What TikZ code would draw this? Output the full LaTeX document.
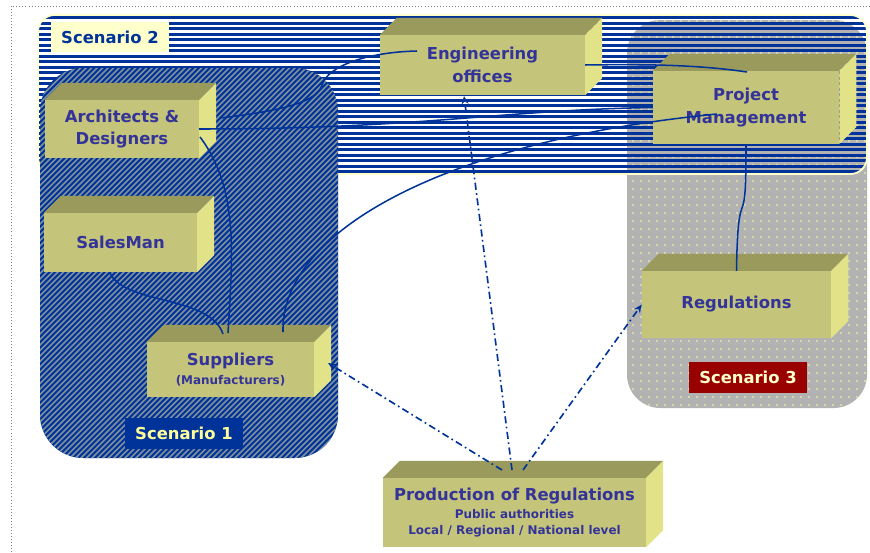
\documentclass[tikz,border=0pt]{standalone}
\usepackage{fontspec}
\setmainfont{DejaVu Sans}
\usetikzlibrary{arrows.meta,patterns}
\definecolor{boxfront}{HTML}{C4C47A}
\definecolor{boxtop}{HTML}{9A9A5C}
\definecolor{boxside}{HTML}{E2E288}
\definecolor{boxtext}{HTML}{333399}
\definecolor{linkblue}{HTML}{003399}
\definecolor{scgray}{HTML}{B2B2B2}
\definecolor{scdot}{HTML}{D8D8A6}
\definecolor{scstripe}{HTML}{7E909C}
\definecolor{paleyellow}{HTML}{FFFFCC}
\definecolor{lightyellow}{HTML}{FFFF99}
\definecolor{darkred}{HTML}{990000}
\pgfdeclarepatternformonly{sparsedots}{\pgfqpoint{0pt}{0pt}}{\pgfqpoint{6.8pt}{6.8pt}}{\pgfqpoint{6.8pt}{6.8pt}}{%
  \pgfpathrectangle{\pgfqpoint{2.7pt}{2.7pt}}{\pgfqpoint{1.5pt}{1.5pt}}\pgfusepath{fill}}
\newcommand{\smalltext}{\fontsize{10.2}{12}\selectfont}
\tikzset{
    block/.style={rectangle, fill=boxfront, text=boxtext, align=center, inner sep=0pt,
    	font=\bfseries\fontsize{14}{19}\selectfont}
}
\tikzset{
    sctag/.style={rectangle, inner sep=0pt, minimum width=3.54cm, minimum height=0.93cm,
    	font=\bfseries\fontsize{14}{17}\selectfont}
}
\tikzset{
    flow/.style={draw=linkblue, line width=1.3pt},
    regarrow/.style={draw=linkblue, line width=1.4pt, dash pattern=on 6pt off 3pt on 1.4pt off 3pt,
    	-{Stealth[length=7pt,width=6pt]}}
}

\begin{document}
\begin{tikzpicture}[x=0.03cm, y=-0.03cm]
  \useasboundingbox (0,0) rectangle (870,552);
  \draw[gray, dotted, line width=0.6pt] (11,552) -- (11,6) -- (870,6);

  % scenario 3 area
  \fill[scgray, rounded corners=1cm] (627,20) rectangle (867,408);
  \fill[pattern=sparsedots, pattern color=scdot, rounded corners=1cm] (627,20) rectangle (867,408);
  % scenario 2 area
  \begin{scope}
    \clip[rounded corners=0.5cm] (38,15) rectangle (867,174);
    \foreach \y in {16,21.5,...,174} \fill[linkblue] (38,\y) rectangle (867,\y+3);
  \end{scope}
  \draw[paleyellow, line width=1.5pt, rounded corners=0.5cm] (38,15) rectangle (867,174);
  % scenario 1 area
  \fill[linkblue, rounded corners=1.3cm] (40,68) rectangle (338,458);
  \begin{scope}
    \clip[rounded corners=1.3cm] (40,68) rectangle (338,458);
    \foreach \c in {110,115.5,...,800} \draw[scstripe, line width=1.3pt] (\c-460,460) -- (\c-60,60);
  \end{scope}

  \node (sc2) [sctag, fill=paleyellow, text=linkblue, minimum height=0.9cm] at (110,37) {Scenario 2};
  \node (sc1) [sctag, fill=linkblue, text=lightyellow] at (184,433.5) {Scenario 1};
  \node (sc3) [sctag, fill=darkred, text=paleyellow] at (748,377) {Scenario 3};

  % boxes
  \node (eng) [block, minimum width=6.15cm, minimum height=1.8cm] at (482.5,65) {Engineering\\offices};
  \node (arch) [block, minimum width=4.62cm, minimum height=1.74cm] at (122,129) {Architects \&\\Designers};
  \node (sales) [block, minimum width=4.59cm, minimum height=1.77cm] at (120.5,242.5) {SalesMan};
  \node (supp) [block, minimum width=5.01cm, minimum height=1.65cm] at (230.5,369.5) {Suppliers\\[-3pt]\smalltext (Manufacturers)};
  \node (pm) [block, minimum width=5.58cm, minimum height=2.19cm] at (746,107.5) {Project\\Management};
  \node (reg) [block, minimum width=5.67cm, minimum height=2.01cm] at (736.5,304.5) {Regulations};
  \node (prod) [block, minimum width=7.89cm, minimum height=2.07cm, font=\bfseries\fontsize{14}{16}\selectfont] at (514.5,512.5)
    {Production of Regulations\\\smalltext Public authorities\\[-2.3pt]\smalltext Local / Regional / National level};

  \foreach \b in {eng,arch,sales,supp,pm,reg,prod} {
    \fill[boxtop] (\b.north west) -- ([shift={(17,-17)}]\b.north west) -- ([shift={(17,-17)}]\b.north east) -- (\b.north east) -- cycle;
    \fill[boxside] (\b.north east) -- ([shift={(17,-17)}]\b.north east) -- ([shift={(17,-17)}]\b.south east) -- (\b.south east) -- cycle;
  }

  % ports
  \coordinate (engL) at (417,51);
  \coordinate (engB) at (464,96);
  \coordinate (archR1) at (220,118);
  \coordinate (archR3) at (200,137);
  \coordinate (salesB) at (110,273);
  \coordinate (suppT1) at (223,334);
  \coordinate (suppT2) at (228,333);
  \coordinate (suppT3) at (283,332);
  \coordinate (suppE) at (328,363);
  \coordinate (pmT) at (747,72);
  \coordinate (pmC) at (717,114);
  \coordinate (prodP1) at (502,470);
  \coordinate (prodP2) at (512,470);
  \coordinate (prodP3) at (523,470);

  \draw[flow] (archR1) .. controls (290,110) and (318,100) .. (322,85) .. controls (328,65) and (370,52) .. (engL);
  \draw[flow] (arch.east) .. controls (420,129) and (500,110) .. (pm.west);
  \draw[flow] (suppT3) .. controls (280,230) and (450,140) .. (pmC);
  \draw[flow] (eng.east) .. controls (650,64) and (700,65) .. (pmT);
  \draw[flow] (archR3) .. controls (240,190) and (232,260) .. (suppT2);
  \draw[flow] (salesB) .. controls (125,305) and (210,295) .. (suppT1);
  \draw[flow] (pm.south) .. controls (746,190) and (745,200) .. (742,208) .. controls (738,218) and (737,240) .. (reg.north);

  \draw[regarrow] (prodP1) -- (suppE);
  \draw[regarrow] (prodP2) -- (engB);
  \draw[regarrow] (prodP3) -- (reg.west);
\end{tikzpicture}
\end{document}
